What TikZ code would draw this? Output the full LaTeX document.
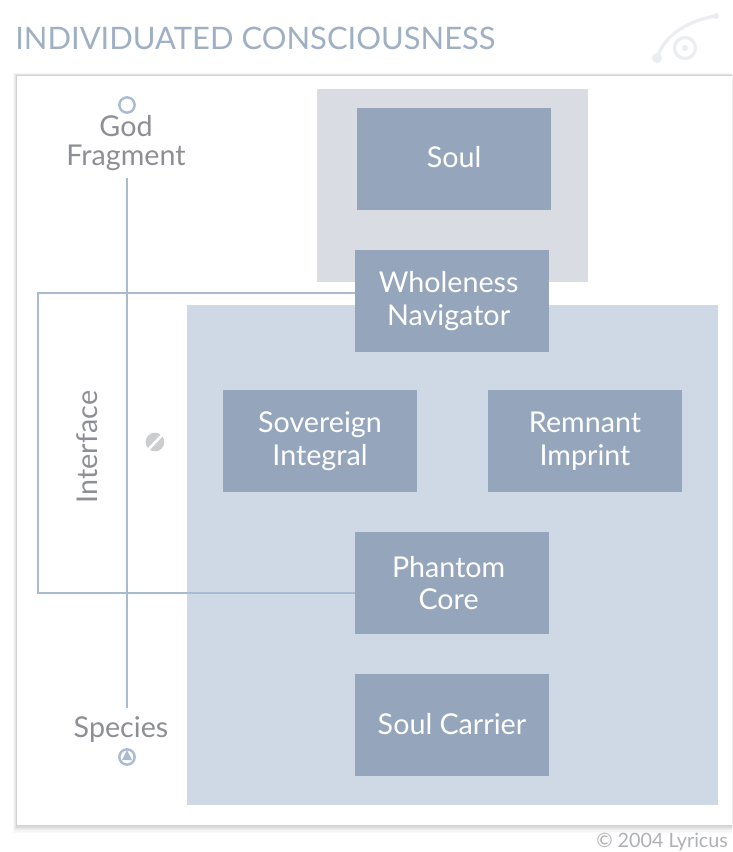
\documentclass[tikz,border=0pt]{standalone}
\usepackage{fontspec}
\setmainfont{Lato}
\definecolor{boxblue}{HTML}{94A5BC}
\definecolor{paleblue}{HTML}{CFD9E5}
\definecolor{palegrey}{HTML}{D9DCE3}
\definecolor{linkblue}{HTML}{A9BBD0}
\definecolor{lbl}{HTML}{8E8F94}
\definecolor{titleblue}{HTML}{9FB0C4}
\definecolor{logo}{HTML}{EBEDF0}
\tikzset{
  x=0.75pt,y=-0.75pt,
  block/.style={fill=boxblue,draw=none,minimum width=145.5pt,minimum height=76.5pt,inner sep=0pt,
    text=white,align=center,font=\fontsize{21.5}{24.5}\selectfont},
  sidelabel/.style={text=lbl,align=center,inner sep=0pt,font=\fontsize{21.5}{21.5}\selectfont},
  linkline/.style={draw=linkblue,line width=1.5pt},
  endmark/.style={circle,draw=#1,line width=1.8pt,fill=white,inner sep=0pt,minimum size=11.5pt},
}
\begin{document}
\begin{tikzpicture}
\useasboundingbox (0,0) rectangle (732,852);
\clip (0,0) rectangle (732,852);
\fill[white] (0,0) rectangle (732,852);
% panel with soft shadow
\foreach \o/\k in {6/2,5/4,4/7,3/10,2/14,1/18}{
  \fill[black!\k] (17-\o*0.7,76-\o*0.5) rectangle (740,825+\o*1.3);
}
\fill[white] (17,76) rectangle (740,825);
% title, logo, copyright
\node[anchor=west,inner sep=0pt,text=titleblue,font=\fontsize{23.2}{26}\selectfont] (title) at (15,38) {INDIVIDUATED CONSCIOUSNESS};
\draw[logo,line width=2.4pt,line cap=round] (716,16) .. controls (690,20) and (662,35) .. (657,60);
\fill[logo] (716,16) circle (3);
\fill[logo] (657,58) circle (5);
\draw[logo,line width=2.4pt] (685,48) circle (10.5);
\fill[logo] (685,48) circle (3);
\node[anchor=west,inner sep=0pt,text=lbl!70,font=\fontsize{14.8}{18}\selectfont] (copy) at (596,842) {© 2004 Lyricus};
% background areas
\fill[palegrey] (317,89) rectangle (588,282);
\fill[paleblue] (187,305) rectangle (718,805);
% blocks
\node[block] (soul) at (454,159) {\raisebox{3pt}{Soul}};
\node[block] (whole) at (452,301) {\hspace*{-5pt}Wholeness\\\hspace*{-5pt}Navigator};
\node[block] (sov) at (320,441) {Sovereign\\Integral};
\node[block] (rem) at (585,441) {\raisebox{-2pt}{Remnant}\\\raisebox{-2pt}{Imprint}};
\node[block] (phantom) at (452,583) {\hspace*{-5pt}Phantom\\\hspace*{-5pt}Core};
\node[block] (carrier) at (452,724.5) {Soul Carrier};
% interface bracket
\coordinate (bt) at (38,293);
\coordinate (bb) at (38,593);
\draw[linkline] (whole.west |- bt) -- (bt) -- (bb) -- (phantom.west |- bb);
\node[sidelabel,rotate=90] (iface) at (87,447) {Interface};
% axis
\node[endmark=linkblue] (top) at (127,105) {};
\node[sidelabel] (god) at (126,143) {God\\Fragment};
\node[sidelabel] (species) at (121,729) {Species};
\node[endmark=linkblue] (bot) at (127,757) {};
\fill[linkblue] (127,750) -- (132,760) -- (122,760) -- cycle;
\coordinate (axa) at (127,178);
\coordinate (axb) at (127,708);
\draw[linkline] (axa) -- (axb);
% small striped disc
\node[circle,fill=lbl!45,inner sep=0pt,minimum size=14pt] (disc) at (155,442) {};
\draw[white,line width=2pt] (148,450) -- (163,434);
\end{tikzpicture}
\end{document}
